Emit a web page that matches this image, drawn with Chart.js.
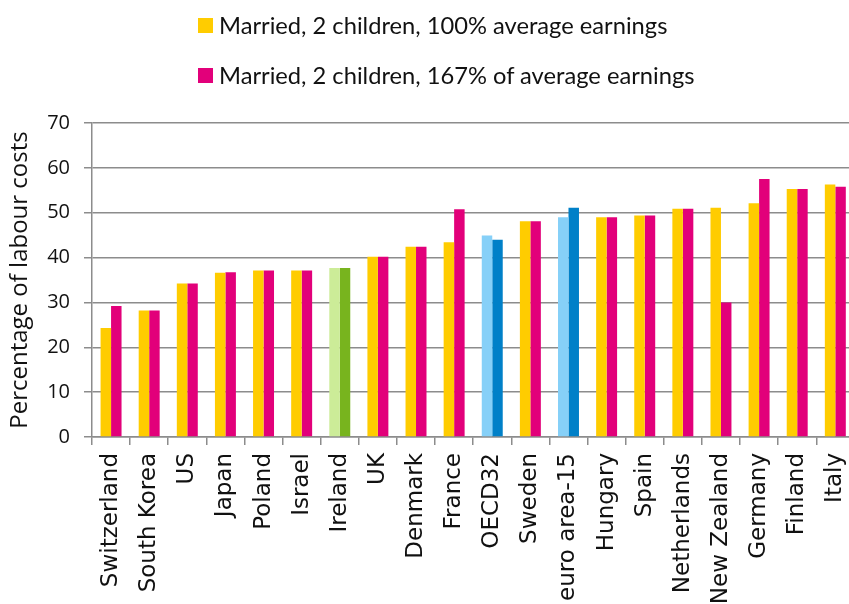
<!DOCTYPE html>
<html>
<head>
<meta charset="utf-8">
<script src="https://cdn.jsdelivr.net/npm/chart.js@4/dist/chart.umd.min.js"></script>
<style>
  html, body { margin: 0; padding: 0; background: #fff; }
  #wrap { position: relative; width: 849px; height: 604px; overflow: hidden; }
  #box { position: absolute; left: 0; top: 0; width: 871px; height: 604px; }
  #legend { position: absolute; left: 198px; top: 8px; font-family: Lato, sans-serif; font-size: 23.7px; color: #111; }
  .leg-item { display: flex; align-items: center; height: 34px; margin-bottom: 16px; }
  .leg-sw { width: 15px; height: 15px; margin-right: 6px; }
</style>
</head>
<body>
<div id="wrap">
  <div id="box"><canvas id="chart"></canvas></div>
  <div id="legend"></div>
</div>
<script>
/* ---------- Data ---------- */
const categories = ['Switzerland','South Korea','US','Japan','Poland','Israel','Ireland','UK','Denmark','France',
  'OECD32','Sweden','euro area-15','Hungary','Spain','Netherlands','New Zealand','Germany','Finland','Italy'];
const avgEarnings100 = [24.3, 28.2, 34.2, 36.6, 37.1, 37.1, 37.7, 40.2, 42.4, 43.4, 44.9, 48.1, 49.0, 49.0, 49.4, 50.9, 51.1, 52.1, 55.3, 56.3];
const avgEarnings167 = [29.2, 28.2, 34.2, 36.7, 37.1, 37.1, 37.7, 40.2, 42.4, 50.8, 44.0, 48.1, 51.1, 49.0, 49.4, 50.9, 30.0, 57.5, 55.3, 55.8];
const seriesLabels = ['Married, 2 children, 100% average earnings', 'Married, 2 children, 167% of average earnings'];
const yTicks = [0, 10, 20, 30, 40, 50, 60, 70];

/* ---------- Colours (highlighted groups) ---------- */
const YELLOW = '#FFCC00', PINK = '#E2007A';
const highlight = {
  'Ireland':      ['#CCEC98', '#78B41E'],
  'OECD32':       ['#86D0F8', '#0080C8'],
  'euro area-15': ['#86D0F8', '#0080C8']
};
const colors100 = categories.map(c => highlight[c] ? highlight[c][0] : YELLOW);
const colors167 = categories.map(c => highlight[c] ? highlight[c][1] : PINK);

/* ---------- Chart ---------- */
const GRID = '#8c8c8c';
const chart = new Chart(document.getElementById('chart'), {
  type: 'bar',
  data: {
    labels: categories,
    datasets: [
      { label: seriesLabels[0], data: avgEarnings100, backgroundColor: colors100, legendColor: YELLOW },
      { label: seriesLabels[1], data: avgEarnings167, backgroundColor: colors167, legendColor: PINK }
    ]
  },
  options: {
    responsive: true,
    maintainAspectRatio: false,
    animation: false,
    categoryPercentage: 0.55,
    barPercentage: 1,
    layout: { padding: { top: 123, right: 3, left: 0, bottom: 0 } },
    plugins: { legend: { display: false }, tooltip: { enabled: false } },
    scales: {
      x: {
        grid: { offset: true, drawOnChartArea: false, color: GRID, lineWidth: 1.5, tickLength: 8 },
        border: { color: GRID, width: 1.5 },
        ticks: { color: '#111', font: { family: 'DejaVu Sans', size: 23 }, minRotation: 90, maxRotation: 90, padding: 8, autoSkip: false },
        afterFit: s => { s.height = 167; }
      },
      y: {
        min: 0, max: 70,
        afterBuildTicks: s => { s.ticks = yTicks.map(v => ({ value: v })); },
        grid: { color: GRID, lineWidth: 1.5, tickLength: 8 },
        border: { color: GRID, width: 1.5 },
        ticks: { color: '#111', font: { family: 'Open Sans', size: 20 }, padding: 14 },
        title: { display: true, text: 'Percentage of labour costs', color: '#111', font: { family: 'Open Sans', size: 24 }, padding: { top: 6, bottom: 0 } },
        afterFit: s => { s.width = 92; }
      }
    }
  }
});

/* ---------- HTML legend ---------- */
const legendEl = document.getElementById('legend');
chart.data.datasets.forEach(ds => {
  const item = document.createElement('div');
  item.className = 'leg-item';
  const sw = document.createElement('span');
  sw.className = 'leg-sw';
  sw.style.background = ds.legendColor;
  const txt = document.createElement('span');
  txt.textContent = ds.label;
  item.appendChild(sw);
  item.appendChild(txt);
  legendEl.appendChild(item);
});
</script>
</body>
</html>
